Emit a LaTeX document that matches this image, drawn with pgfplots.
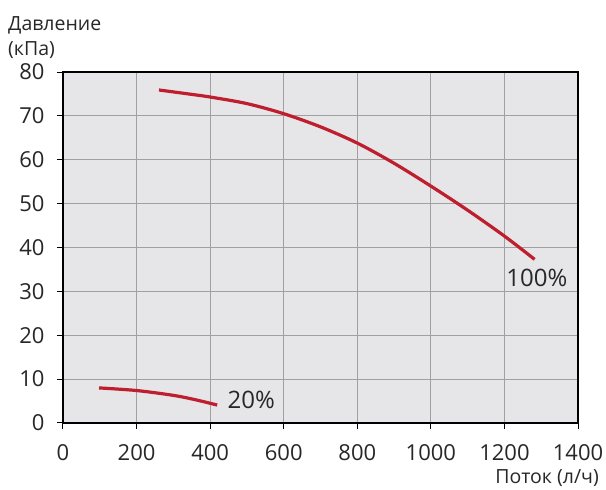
\documentclass[border=0pt]{standalone}
\usepackage{pgfplots}
\pgfplotsset{compat=1.18}
\usepackage{fontspec}
\setmainfont{Open Sans}
\definecolor{bg}{RGB}{230,230,232}
\definecolor{gridc}{RGB}{160,160,160}
\definecolor{curve}{RGB}{190,30,45}
\definecolor{txt}{RGB}{40,38,40}
\begin{document}
\begin{tikzpicture}
\useasboundingbox (-63pt,-67pt) rectangle (543pt,423pt);
\begin{axis}[
  at={(0,0)}, anchor=south west,
  scale only axis, width=515pt, height=351pt,
  xmin=0, xmax=1400, ymin=0, ymax=80,
  xtick={0,200,...,1400}, ytick={0,10,...,80},
  axis background/.style={fill=bg},
  grid=major, major grid style={gridc, line width=1pt},
  axis line style={black, line width=2.5pt},
  tick style={black, line width=1pt},
  tick align=outside, tick pos=left,
  major tick length=6pt,
  /pgf/number format/assume math mode=true,
  /pgf/number format/set thousands separator={},
  ticklabel style={font=\fontsize{22}{26}\selectfont, text=txt},
  xticklabel style={yshift=-12pt},
  yticklabel style={xshift=-9pt},
  clip=false,
]
\addplot[curve, line width=3.2pt, smooth] coordinates {
 (261,75.9) (350,74.9) (400,74.3) (500,72.8) (600,70.5) (700,67.5) (800,63.8)
 (900,59.2) (1000,54.0) (1100,48.5) (1200,42.6) (1282,37.3)};
\addplot[curve, line width=3.2pt, smooth] coordinates {
 (98,8.0) (200,7.4) (300,6.3) (360,5.3) (419,4.1)};
\node[anchor=west, font=\fontsize{24}{28}\selectfont, text=txt] at (axis cs:1196,33.0) {100\%};
\node[anchor=west, font=\fontsize{24}{28}\selectfont, text=txt] at (axis cs:438,5.2) {20\%};
\end{axis}
\node[anchor=base west, inner sep=0pt, font=\fontsize{19.5}{24}\selectfont, text=txt] at (-55pt,392pt) {Давление};
\node[anchor=base west, inner sep=0pt, font=\fontsize{19.5}{24}\selectfont, text=txt] at (-55pt,367pt) {(кПа)};
\node[anchor=base east, inner sep=0pt, font=\fontsize{19.5}{24}\selectfont, text=txt] at (536pt,-61pt) {Поток (л/ч)};
\end{tikzpicture}
\end{document}
